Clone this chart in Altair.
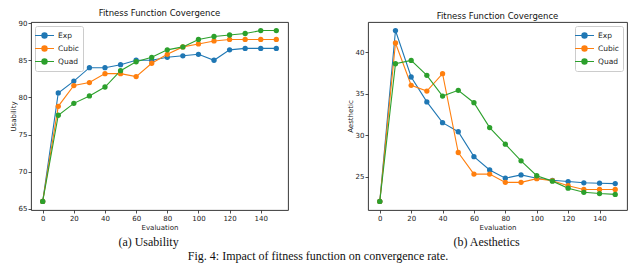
import altair as alt
import pandas as pd

evals = [0, 10, 20, 30, 40, 50, 60, 70, 80, 90, 100, 110, 120, 130, 140, 150]
series = ["Exp", "Cubic", "Quad"]
colors = ["#1f77b4", "#ff7f0e", "#2ca02c"]

usab_exp = [66.0, 80.6, 82.2, 84.0, 84.0, 84.4, 85.0, 85.0, 85.4, 85.6, 85.8, 85.0, 86.4, 86.6, 86.6, 86.6]
usab_cubic = [66.0, 78.8, 81.6, 82.0, 83.2, 83.2, 82.8, 84.6, 85.8, 86.8, 87.2, 87.6, 87.8, 87.8, 87.8, 87.8]
usab_quad = [66.0, 77.6, 79.2, 80.2, 81.4, 83.6, 84.8, 85.4, 86.4, 86.8, 87.8, 88.2, 88.4, 88.6, 89.0, 89.0]

aes_exp = [22.0, 42.6, 37.0, 34.0, 31.5, 30.4, 27.4, 25.8, 24.8, 25.2, 24.8, 24.55, 24.4, 24.25, 24.2, 24.15]
aes_cubic = [22.0, 41.1, 36.0, 35.3, 37.4, 27.9, 25.3, 25.3, 24.3, 24.3, 24.75, 24.5, 23.9, 23.45, 23.45, 23.45]
aes_quad = [22.0, 38.6, 39.0, 37.2, 34.7, 35.4, 33.9, 30.9, 28.9, 26.9, 25.1, 24.45, 23.6, 23.1, 22.95, 22.85]

x_ticks = [0, 20, 40, 60, 80, 100, 120, 140]
usab_ticks = [65, 70, 75, 80, 85, 90]
aes_ticks = [25, 30, 35, 40]

panel_title = "Fitness Function Covergence"
caption_a = "(a) Usability"
caption_b = "(b) Aesthetics"
fig_caption = "Fig. 4: Impact of fitness function on convergence rate."


def long_df(values_by_series):
    rows = []
    for name, vals in zip(series, values_by_series):
        for e, v in zip(evals, vals):
            rows.append({"Evaluation": e, "value": v, "series": name})
    return pd.DataFrame(rows)


def circ(r):
    return f"M{r},0A{r},{r} 0 1,1 {-r},0A{r},{r} 0 1,1 {r},0"


legend_path = "M-2,0H2" + circ(0.55) + circ(0.36) + circ(0.17)

FONT = "DejaVu Sans"
H = 188


def panel(df, ytitle, ydomain, yticks, legend_orient, width):
    color = alt.Color(
        "series:N",
        scale=alt.Scale(domain=series, range=colors),
        sort=series,
        legend=alt.Legend(
            title=None,
            orient=legend_orient,
            offset=4,
            symbolType=legend_path,
            symbolSize=90,
            symbolStrokeWidth=1.2,
            labelOffset=8,
            labelFontSize=7.5,
            labelFont=FONT,
            labelColor="#222",
            rowPadding=2,
            padding=4,
            strokeColor="#cccccc",
            fillColor="white",
            cornerRadius=2,
        ),
    )
    x = alt.X(
        "Evaluation:Q",
        scale=alt.Scale(domain=[-7.5, 157.5], nice=False, zero=False),
        axis=alt.Axis(values=x_ticks, title="Evaluation", grid=False),
    )
    y = alt.Y(
        "value:Q",
        scale=alt.Scale(domain=ydomain, nice=False, zero=False),
        axis=alt.Axis(values=yticks, title=ytitle, grid=False),
    )
    base = alt.Chart(df).encode(x=x, y=y, color=color, detail="series:N")
    lines = base.mark_line(strokeWidth=1.1).encode(order="Evaluation:Q")
    pts = base.mark_circle(size=28, opacity=1)
    return alt.layer(lines, pts).properties(
        width=width,
        height=H,
        title=alt.TitleParams(panel_title, fontSize=8.5, font=FONT, fontWeight="normal",
                              color="#111", offset=2, anchor="middle"),
    )


cap_style = dict(orient="bottom", font="Liberation Serif", fontSize=12, fontWeight="normal",
                 color="#111", offset=7, anchor="middle")

left = panel(long_df([usab_exp, usab_cubic, usab_quad]), "Usability", [64.85, 90.15], usab_ticks, "top-left", 257)
right = panel(long_df([aes_exp, aes_cubic, aes_quad]), "Aesthetic", [20.97, 43.63], aes_ticks, "top-right", 259)

left_v = alt.vconcat(left, title=alt.TitleParams(caption_a, **cap_style)).resolve_scale(color="independent")
right_v = alt.vconcat(right, title=alt.TitleParams(caption_b, **cap_style)).resolve_scale(color="independent")

chart = (
    alt.hconcat(
        left_v,
        right_v,
        spacing=56,
        title=alt.TitleParams(fig_caption, orient="bottom", font="Liberation Serif", fontSize=12,
                              fontWeight="normal", color="#111", offset=3, anchor="middle"),
    )
    .resolve_scale(y="independent", color="independent")
    .resolve_legend(color="independent")
    .properties(padding=0)
    .configure_view(stroke="#222", strokeWidth=0.9)
    .configure_axis(
        domain=False,
        tickColor="#222",
        tickSize=3,
        tickWidth=0.8,
        labelFont=FONT,
        labelFontSize=7,
        labelColor="#222",
        labelPadding=1,
        titleFont=FONT,
        titleFontSize=7,
        titleFontWeight="normal",
        titleColor="#222",
        titlePadding=2,
    )
)

chart.save("out.html", embed_options={"renderer": "svg", "actions": False})
